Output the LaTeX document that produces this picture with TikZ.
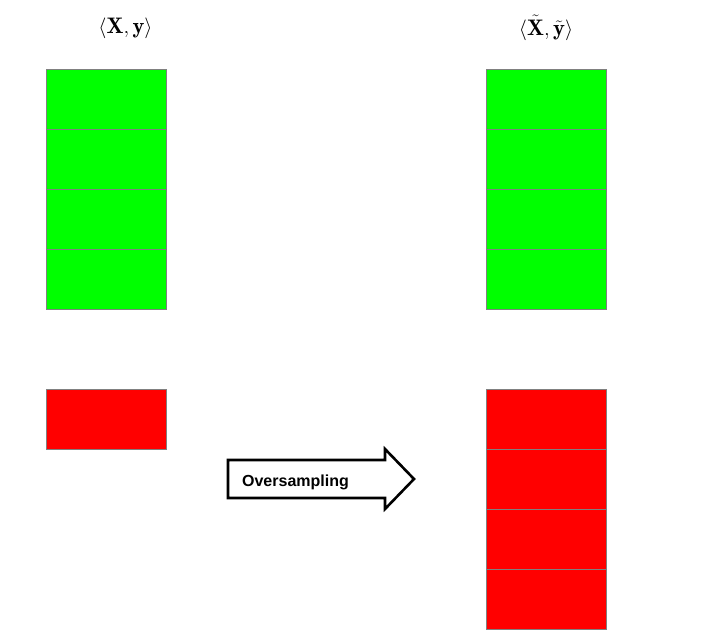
\documentclass[tikz,border=0pt]{standalone}
\usepackage{fontspec}
\newfontfamily\arrowfont{Liberation Sans}
\usetikzlibrary{positioning}

\begin{document}
\begin{tikzpicture}[
	x=1pt, y=-1pt,
	cellg/.style={ rectangle, draw=gray, line width=0.8pt, fill=green, inner sep=0pt, outer sep=0pt, minimum width=120pt, minimum height=60pt },
	cellr/.style={ rectangle, draw=gray, line width=0.8pt, fill=red, inner sep=0pt, outer sep=0pt, minimum width=120pt, minimum height=60pt },
	setlabel/.style={ inner sep=0pt, font=\fontsize{22.5}{26}\selectfont },
	arrowlabel/.style={ inner sep=0pt, font=\arrowfont\bfseries\fontsize{16}{19}\selectfont }
]
\useasboundingbox (0,0) rectangle (717,630);

\node[setlabel] at (125.5,28) (l1) {$\langle \mathbf{X}, \mathbf{y} \rangle$};
\node[setlabel] at (546,28) (l2) {$\langle \tilde{\mathbf{X}}, \tilde{\mathbf{y}} \rangle$};

\node[cellg] at (106,99) (g1) {};
\node[cellg, below=0pt of g1] (g2) {};
\node[cellg, below=0pt of g2] (g3) {};
\node[cellg, below=0pt of g3] (g4) {};

\node[cellr] at (106,419) (r1) {};

\node[cellg] at (546,99) (h1) {};
\node[cellg, below=0pt of h1] (h2) {};
\node[cellg, below=0pt of h2] (h3) {};
\node[cellg, below=0pt of h3] (h4) {};

\node[cellr] at (546,419) (s1) {};
\node[cellr, below=0pt of s1] (s2) {};
\node[cellr, below=0pt of s2] (s3) {};
\node[cellr, below=0pt of s3] (s4) {};

\draw[line width=2.6pt, line join=miter, fill=white]
	(228,460) -- (385,460) -- (385,449) -- (414,479) -- (385,509)
	-- (385,498) -- (228,498) -- cycle;
\node[arrowlabel] at (295.5,482) (os) {Oversampling};

\end{tikzpicture}
\end{document}
